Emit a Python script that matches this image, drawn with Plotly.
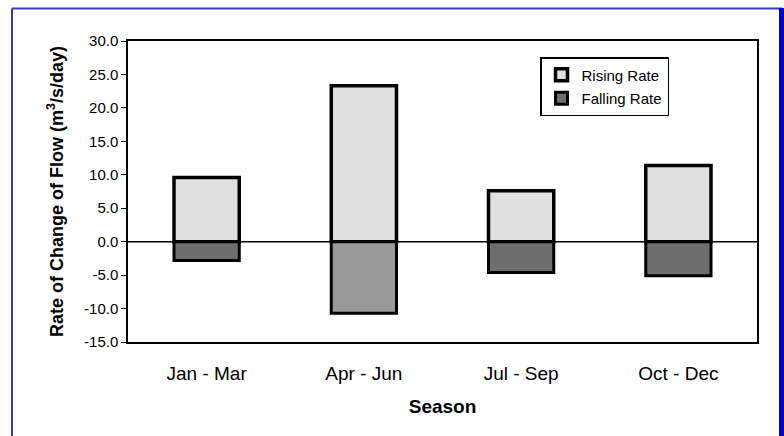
import plotly.graph_objects as go

seasons = ["Jan - Mar", "Apr - Jun", "Jul - Sep", "Oct - Dec"]
rising = [9.6, 23.3, 7.6, 11.4]
falling = [-2.8, -10.7, -4.6, -5.1]
falling_colors = ["#6e6e6e", "#9a9a9a", "#6e6e6e", "#6e6e6e"]
yticks = [-15, -10, -5, 0, 5, 10, 15, 20, 25, 30]
ytick_labels = ["-15.0", "-10.0", "-5.0", "0.0", "5.0", "10.0", "15.0", "20.0", "25.0", "30.0"]

fig = go.Figure()
fig.add_trace(go.Bar(x=seasons, y=rising, name="Rising Rate", width=0.415, legendgroup="a",
                     marker=dict(color="#e0e0e0", line=dict(color="black", width=3.5))))
fig.add_trace(go.Bar(x=seasons, y=falling, name="Falling Rate", width=0.415, legendgroup="b",
                     marker=dict(color=falling_colors, line=dict(color="black", width=3))))

W, H = 784, 436
# plot area in page pixels
PL, PR, PT, PB = 128, 757, 41, 342
L, R, T, B = PL, W - PR, PT, H - PB
pw, ph = W - L - R, H - T - B
def px(x):
    return (x - L) / pw
def py(y):
    return (H - B - y) / ph

shapes = [
    dict(type="line", xref="paper", yref="paper", x0=px(12), x1=px(12), y0=py(8.5), y1=py(436),
         line=dict(color="#3a3ab8", width=2)),
    dict(type="line", xref="paper", yref="paper", x0=px(12), x1=px(782), y0=py(8.5), y1=py(8.5),
         line=dict(color="#3a3ab8", width=2)),
    dict(type="line", xref="paper", yref="paper", x0=px(781.5), x1=px(781.5), y0=py(8), y1=py(436),
         line=dict(color="#0000cc", width=5)),
    dict(type="line", xref="paper", yref="y", x0=0, x1=1, y0=0, y1=0,
         line=dict(color="black", width=1.5), layer="below"),
]

fig.update_layout(
    width=W, height=H,
    margin=dict(l=L, r=R, t=T, b=B),
    paper_bgcolor="white", plot_bgcolor="white",
    barmode="relative",
    font=dict(family="Liberation Sans, Arial, sans-serif", color="black"),
    showlegend=True,
    legend=dict(x=px(540), y=py(57), xanchor="left", yanchor="top",
                bordercolor="black", borderwidth=1.5, bgcolor="white",
                font=dict(size=15), traceorder="grouped",
                itemwidth=30, tracegroupgap=1),
    shapes=shapes,
)
fig.update_xaxes(
    showline=True, linecolor="black", linewidth=1.5, mirror=True,
    ticks="", tickfont=dict(size=19), ticklabelstandoff=13,
    title=dict(text="<b>Season</b>", font=dict(size=19), standoff=17),
    showgrid=False,
)
fig.update_yaxes(
    range=[-15, 30], tickvals=yticks, ticktext=ytick_labels,
    showline=True, linecolor="black", linewidth=1.5, mirror=True,
    ticks="outside", ticklen=5, tickcolor="black", tickfont=dict(size=15),
    title=dict(text="<b>Rate of Change of Flow (m<sup>3</sup>/s/day)</b>", font=dict(size=18), standoff=16),
    showgrid=False, zeroline=False,
)

fig.write_html("out.html", config={"displayModeBar": False},
               post_script="document.body.style.margin='0';document.body.style.overflow='hidden';")
